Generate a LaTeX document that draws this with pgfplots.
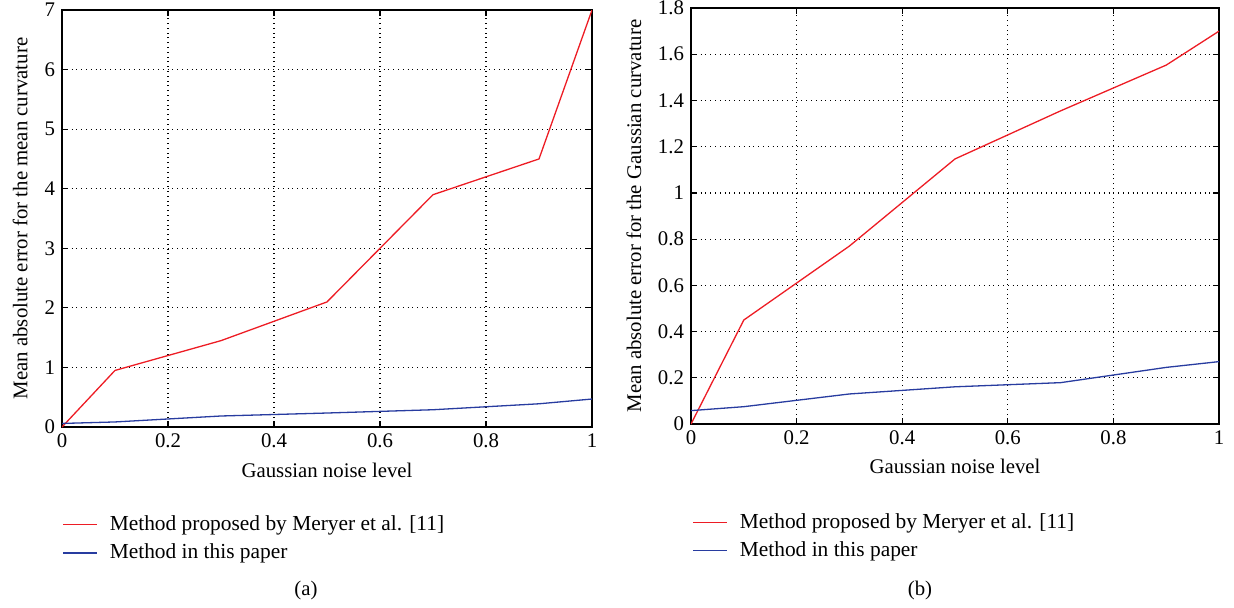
\documentclass[border=0pt]{standalone}
\usepackage{fontspec}
\setmainfont{Liberation Serif}
\usepackage{pgfplots}
\pgfplotsset{compat=1.18}

\definecolor{redline}{RGB}{237,28,36}
\definecolor{blueline}{RGB}{40,60,160}

\pgfplotsset{
  panel/.style={
    scale only axis,
    xmin=0, xmax=1, ymin=0,
    xtick={0,0.2,0.4,0.6,0.8,1},
    grid=major,
    major grid style={black, dotted, line width=0.6pt},
    axis line style={line width=0.7pt},
    tick style={black, line width=0.6pt},
    major tick length=3pt,
    tick label style={font=\fontsize{10.4}{12}\selectfont},
    label style={font=\fontsize{10.4}{12}\selectfont},
    /pgf/number format/assume math mode=true,
    xlabel={Gaussian noise level},
    legend style={draw=none, fill=none, inner sep=0pt, anchor=north west,
      font=\fontsize{10.7}{12}\selectfont, row sep=1.2pt},
    legend cell align=left,
    legend image code/.code={\draw[#1] (0pt,0pt) -- (17pt,0pt); \path (21pt,0pt);},
  }
}

\begin{document}
\begin{tikzpicture}
\path[use as bounding box] (0,0) rectangle (617pt,-303.5pt);

% (a) mean curvature
\begin{axis}[panel,
  at={(31pt,-213.5pt)}, anchor=south west,
  width=265pt, height=208.5pt,
  ymax=7, ytick={0,1,2,3,4,5,6,7},
  ylabel={Mean absolute error for the mean curvature},
  xlabel style={at={(axis description cs:0.5,-0.103)}, anchor=center},
  ylabel style={at={(axis description cs:-0.079,0.5)}, anchor=center},
  legend style={at={(axis description cs:0.0,-0.2023)}},
]
\addlegendimage{redline, line width=0.7pt}
\addlegendentry{Method proposed by Meryer et al. [11]}
\addlegendimage{blueline, line width=0.7pt}
\addlegendentry{Method in this paper}
\addplot[redline, line width=0.65pt, forget plot] coordinates {
  (0,0) (0.1,0.95) (0.3,1.45) (0.5,2.1) (0.7,3.9) (0.9,4.5) (1,7.0)
};
\addplot[blueline, line width=0.65pt, forget plot] coordinates {
  (0,0.06) (0.1,0.085) (0.3,0.185) (0.5,0.235) (0.7,0.29) (0.9,0.39) (1,0.47)
};
\end{axis}

% (b) Gaussian curvature
\begin{axis}[panel,
  at={(345.5pt,-212pt)}, anchor=south west,
  width=264pt, height=208pt,
  ymax=1.8, ytick={0,0.2,0.4,0.6,0.8,1,1.2,1.4,1.6,1.8},
  ylabel={Mean absolute error for the Gaussian curvature},
  xlabel style={at={(axis description cs:0.5,-0.103)}, anchor=center},
  ylabel style={at={(axis description cs:-0.108,0.5)}, anchor=center},
  legend style={at={(axis description cs:0.002,-0.204)}},
]
\addlegendimage{redline, line width=0.7pt}
\addlegendentry{Method proposed by Meryer et al. [11]}
\addlegendimage{blueline, line width=0.7pt}
\addlegendentry{Method in this paper}
\addplot[redline, line width=0.65pt, forget plot] coordinates {
  (0,0) (0.1,0.45) (0.3,0.77) (0.5,1.147) (0.7,1.355) (0.9,1.553) (1,1.70)
};
\addplot[blueline, line width=0.65pt, forget plot] coordinates {
  (0,0.058) (0.1,0.075) (0.3,0.13) (0.5,0.161) (0.7,0.179) (0.9,0.245) (1,0.27)
};
\end{axis}

\node[font=\fontsize{10.4}{12}\selectfont] at (153pt,-295pt) {(a)};
\node[font=\fontsize{10.4}{12}\selectfont] at (460pt,-295pt) {(b)};
\end{tikzpicture}
\end{document}
